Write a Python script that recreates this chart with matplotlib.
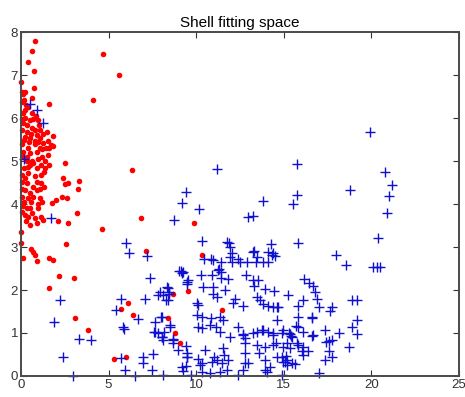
import numpy as np
import matplotlib
matplotlib.use("Agg")
import matplotlib.pyplot as plt

plt.rcParams['font.family'] = ['Liberation Sans', 'DejaVu Sans']

# shell class: (x, y) pairs
red_pts = [
    (0.8, 7.8), (0.63, 7.55), (0.42, 7.3), (0.74, 7.09), (0.0, 6.84), (4.66, 7.5),
    (5.57, 7.0), (4.09, 6.43), (6.34, 4.79), (1.62, 6.33), (0.74, 6.71), (0.63, 6.47),
    (0.04, 6.6), (0.23, 6.6), (0.04, 6.38), (0.19, 6.42), (0.42, 6.26), (0.23, 6.19),
    (0.13, 6.11), (0.61, 6.11), (0.7, 5.99), (0.51, 5.95), (0.04, 5.99), (0.13, 5.88),
    (0.33, 5.84), (0.99, 5.95), (1.03, 5.84), (0.04, 5.72), (0.33, 5.68), (0.61, 5.76),
    (0.8, 5.72), (1.08, 5.72), (1.27, 5.64), (1.47, 5.68), (1.84, 5.58), (0.23, 5.57),
    (0.51, 5.53), (0.8, 5.46), (1.08, 5.53), (1.27, 5.42), (1.56, 5.46), (0.04, 5.4),
    (0.42, 5.3), (0.8, 5.4), (1.08, 5.3), (1.42, 5.3), (1.7, 5.37), (0.13, 5.22),
    (0.51, 5.18), (0.9, 5.22), (1.23, 5.27), (1.6, 5.3), (1.84, 5.34), (0.33, 5.0),
    (0.61, 5.0), (0.99, 5.06), (1.4, 5.0), (2.51, 4.96), (0.42, 4.87), (0.9, 4.85),
    (1.4, 4.84), (1.6, 4.9), (0.17, 4.85), (0.51, 4.9), (1.15, 4.92), (0.04, 4.67),
    (0.42, 4.72), (0.8, 4.65), (1.13, 4.67), (0.04, 4.51), (0.33, 4.48), (0.9, 4.51),
    (1.17, 4.48), (2.41, 4.6), (2.51, 4.46), (2.7, 4.48), (3.31, 4.53), (3.27, 4.36),
    (0.04, 4.36), (0.23, 4.32), (0.51, 4.26), (0.9, 4.32), (1.08, 4.36), (0.04, 4.16),
    (0.42, 4.14), (0.7, 4.16), (1.08, 4.14), (2.32, 4.17), (2.03, 4.09), (1.75, 4.02),
    (2.61, 4.13), (0.13, 3.95), (0.51, 3.91), (0.99, 3.91), (0.95, 4.0), (3.18, 3.8),
    (0.04, 3.82), (0.23, 3.74), (0.42, 3.7), (0.8, 3.67), (1.14, 3.7), (0.51, 3.51),
    (0.9, 3.55), (1.27, 3.64), (2.13, 3.61), (2.7, 3.57), (0.0, 3.36), (4.6, 3.42),
    (0.0, 3.09), (2.55, 3.06), (0.13, 2.75), (0.55, 2.95), (0.7, 2.89), (0.78, 2.81),
    (0.9, 2.67), (1.62, 2.75), (1.81, 2.7), (2.19, 2.33), (3.02, 2.29), (1.62, 2.04),
    (3.08, 1.36), (3.84, 1.07), (6.85, 3.67), (7.13, 2.91), (6.09, 1.69), (5.69, 1.55),
    (6.41, 1.43), (5.31, 0.39), (5.99, 0.43), (8.7, 1.91), (9.55, 1.98), (8.41, 1.36),
    (8.79, 0.99), (9.08, 0.76), (9.89, 3.57), (10.35, 2.81), (11.45, 1.53),
    (0.1, 6.55), (0.3, 6.3), (0.15, 5.5), (0.6, 5.62), (0.35, 5.1), (0.7, 4.95),
    (1.3, 4.75), (0.6, 4.05), (0.2, 4.05), (0.3, 3.6), (0.65, 3.8), (1.2, 4.05),
    (0.25, 6.0), (0.9, 5.6), (1.2, 5.1), (0.25, 4.6), (0.7, 4.4), (1.3, 4.4),
    (0.35, 3.9), (1.0, 5.45), (0.45, 5.45), (1.55, 5.15), (0.1, 5.1), (0.85, 6.05),
]

# second class
blue_pts = [
    (19.95, 5.67), (15.73, 4.93), (20.8, 4.74), (21.2, 4.44), (21.0, 4.19), (20.9, 3.79),
    (18.8, 4.33), (20.4, 3.2), (20.1, 2.53), (20.3, 2.53), (20.5, 2.53), (18.0, 2.81),
    (18.55, 2.58), (11.2, 4.81), (9.42, 4.29), (9.21, 4.02), (10.16, 3.88), (8.73, 3.63),
    (13.79, 4.06), (12.97, 3.7), (13.26, 3.72), (15.54, 4.0), (15.73, 4.21), (15.81, 3.1),
    (6.0, 3.1), (6.15, 2.87), (7.19, 2.79), (7.38, 2.27), (1.73, 3.67), (2.23, 1.77),
    (1.88, 1.26), (3.3, 0.86), (4.0, 0.84), (2.4, 0.44), (3.0, 0.0), (0.51, 6.32),
    (0.93, 6.2), (1.24, 5.88), (0.17, 5.04), (5.7, 1.78), (5.42, 1.53), (7.06, 1.78),
    (6.7, 1.32), (5.85, 1.14), (5.88, 1.09), (7.67, 1.26), (7.6, 1.02), (7.8, 1.0),
    (5.69, 0.42), (6.94, 0.45), (6.98, 0.29), (7.55, 0.5), (5.92, 0.13), (7.5, 0.14),
    (6.5, 0.0), (9.04, 2.45), (9.19, 2.4), (9.46, 2.19), (7.91, 1.95), (8.41, 2.04),
    (8.43, 1.9), (8.26, 1.76), (8.37, 1.76), (7.99, 1.38), (8.5, 1.15), (8.07, 0.9),
    (8.13, 0.84), (8.66, 0.84), (8.94, 0.6), (9.42, 0.7), (8.12, 0.02), (9.2, 0.22),
    (9.4, 0.24), (9.5, 0.43), (10.31, 3.14), (11.87, 3.1), (11.93, 2.76), (12.4, 2.71),
    (12.88, 2.66), (13.3, 2.9), (13.41, 2.66), (13.83, 2.66), (14.12, 2.66), (14.25, 3.06),
    (14.12, 2.89), (14.4, 2.85), (14.5, 2.79), (10.45, 2.72), (10.83, 2.71), (10.94, 2.7),
    (9.13, 2.45), (9.23, 2.42), (10.26, 2.35), (10.88, 2.35), (11.32, 2.5), (11.42, 2.42),
    (11.4, 2.27), (11.8, 2.25), (9.55, 2.23), (9.49, 2.15), (12.84, 2.35), (13.22, 2.23),
    (13.55, 2.23), (13.3, 2.09), (10.41, 2.08), (10.94, 2.06), (11.64, 2.0), (13.93, 2.02),
    (14.44, 1.98), (16.15, 2.25), (16.46, 2.16), (16.68, 2.09), (15.26, 1.88), (16.88, 1.8),
    (8.35, 2.06), (8.45, 1.96), (7.82, 1.88), (8.12, 1.88), (10.98, 1.91), (11.17, 1.84),
    (10.08, 1.65), (12.21, 1.8), (12.08, 1.69), (12.69, 1.63), (13.45, 1.83), (13.64, 1.77),
    (13.83, 1.67), (14.08, 1.63), (14.63, 1.61), (15.83, 1.63), (8.08, 1.38), (8.5, 1.19),
    (10.03, 1.42), (10.31, 1.38), (10.83, 1.34), (11.36, 1.38), (11.51, 1.3), (10.79, 1.19),
    (11.13, 1.15), (10.08, 1.15), (10.31, 1.11), (11.36, 1.03), (7.65, 1.03), (8.16, 1.03),
    (8.03, 0.9), (8.69, 0.85), (11.93, 0.91), (12.65, 0.98), (12.79, 0.88), (13.45, 1.03),
    (13.83, 1.07), (14.12, 1.03), (14.4, 0.99), (14.88, 0.99), (15.35, 0.98), (15.45, 0.91),
    (15.83, 1.15), (16.11, 1.03), (16.65, 0.95), (15.79, 1.38), (16.59, 1.38), (8.66, 0.76),
    (9.49, 0.53), (9.46, 0.45), (10.5, 0.6), (11.55, 0.64), (11.59, 0.49), (12.79, 0.76),
    (13.45, 0.72), (13.6, 0.53), (13.93, 0.68), (14.55, 0.76), (14.97, 0.68), (15.74, 0.76),
    (16.11, 0.68), (14.88, 0.45), (15.07, 0.33), (15.17, 0.37), (10.31, 0.31), (10.22, 0.26),
    (10.88, 0.33), (11.17, 0.37), (11.45, 0.3), (11.83, 0.37), (12.94, 0.31), (9.23, 0.12),
    (9.7, 0.02), (10.31, 0.1), (10.79, 0.08), (11.36, 0.1), (11.74, 0.14), (12.4, 0.02),
    (12.69, 0.14), (13.93, 0.14), (14.02, 0.1), (14.88, 0.02), (15.17, 0.26), (16.78, 1.96),
    (16.08, 1.76), (17.03, 1.61), (17.73, 1.6), (17.64, 1.5), (18.87, 1.77), (19.16, 1.77),
    (19.2, 1.3), (18.87, 1.13), (19.16, 0.98), (18.17, 0.99), (18.74, 0.68), (14.4, 1.6),
    (14.69, 1.6), (14.59, 1.3), (14.4, 0.95), (16.59, 1.34), (15.7, 1.16), (14.97, 1.08),
    (15.32, 0.99), (15.39, 0.93), (16.59, 0.93), (17.35, 1.08), (17.41, 0.8), (17.6, 0.82),
    (17.73, 0.84), (17.35, 0.37), (17.73, 0.43), (17.6, 0.59), (14.4, 0.72), (15.17, 0.76),
    (15.35, 0.64), (15.83, 0.72), (16.02, 0.57), (16.4, 0.57), (14.59, 0.45), (15.13, 0.47),
    (14.97, 0.33), (15.45, 0.29), (15.64, 0.28), (16.11, 0.49), (17.03, 0.06), (14.21, 0.22),
    (11.74, 3.12), (11.93, 3.0), (12.02, 2.85), (13.26, 2.89), (13.45, 2.77), (14.31, 2.81),
    (11.26, 2.47), (11.4, 2.66), (12.03, 2.66), (12.5, 2.66), (10.03, 1.7), (12.4, 1.15),
    (12.69, 0.95), (13.26, 0.99), (13.74, 1.07), (10.1, 0.39), (11.0, 0.45), (12.79, 0.53),
    (12.79, 0.29), (13.93, 0.37),
]

xticks = [0, 5, 10, 15, 20, 25]
yticks = [0, 1, 2, 3, 4, 5, 6, 7, 8]

rx, ry = np.array(red_pts).T
bx, by = np.array(blue_pts).T

fig = plt.figure(figsize=(4.65, 3.97), dpi=100)
ax = fig.add_axes([0.045, 0.053, 0.942, 0.866])
ax.plot(rx, ry, 'o', color='red', markersize=4.0, markeredgewidth=0, clip_on=False)
ax.plot(bx, by, '+', color='#1010d0', markersize=7, markeredgewidth=1.0, clip_on=False)

ax.set_xlim(0, 25)
ax.set_ylim(0, 8)
ax.set_xticks(xticks)
ax.set_yticks(yticks)
ax.tick_params(direction='in', top=True, right=True, length=4, width=0.8,
               labelsize=9.5, pad=2, colors='#333333')
for s in ax.spines.values():
    s.set_color('#4a4a4a')
    s.set_linewidth(1.4)
ax.set_title("Shell fitting space", fontsize=11, pad=4)

plt.savefig("out.png", dpi=100)
